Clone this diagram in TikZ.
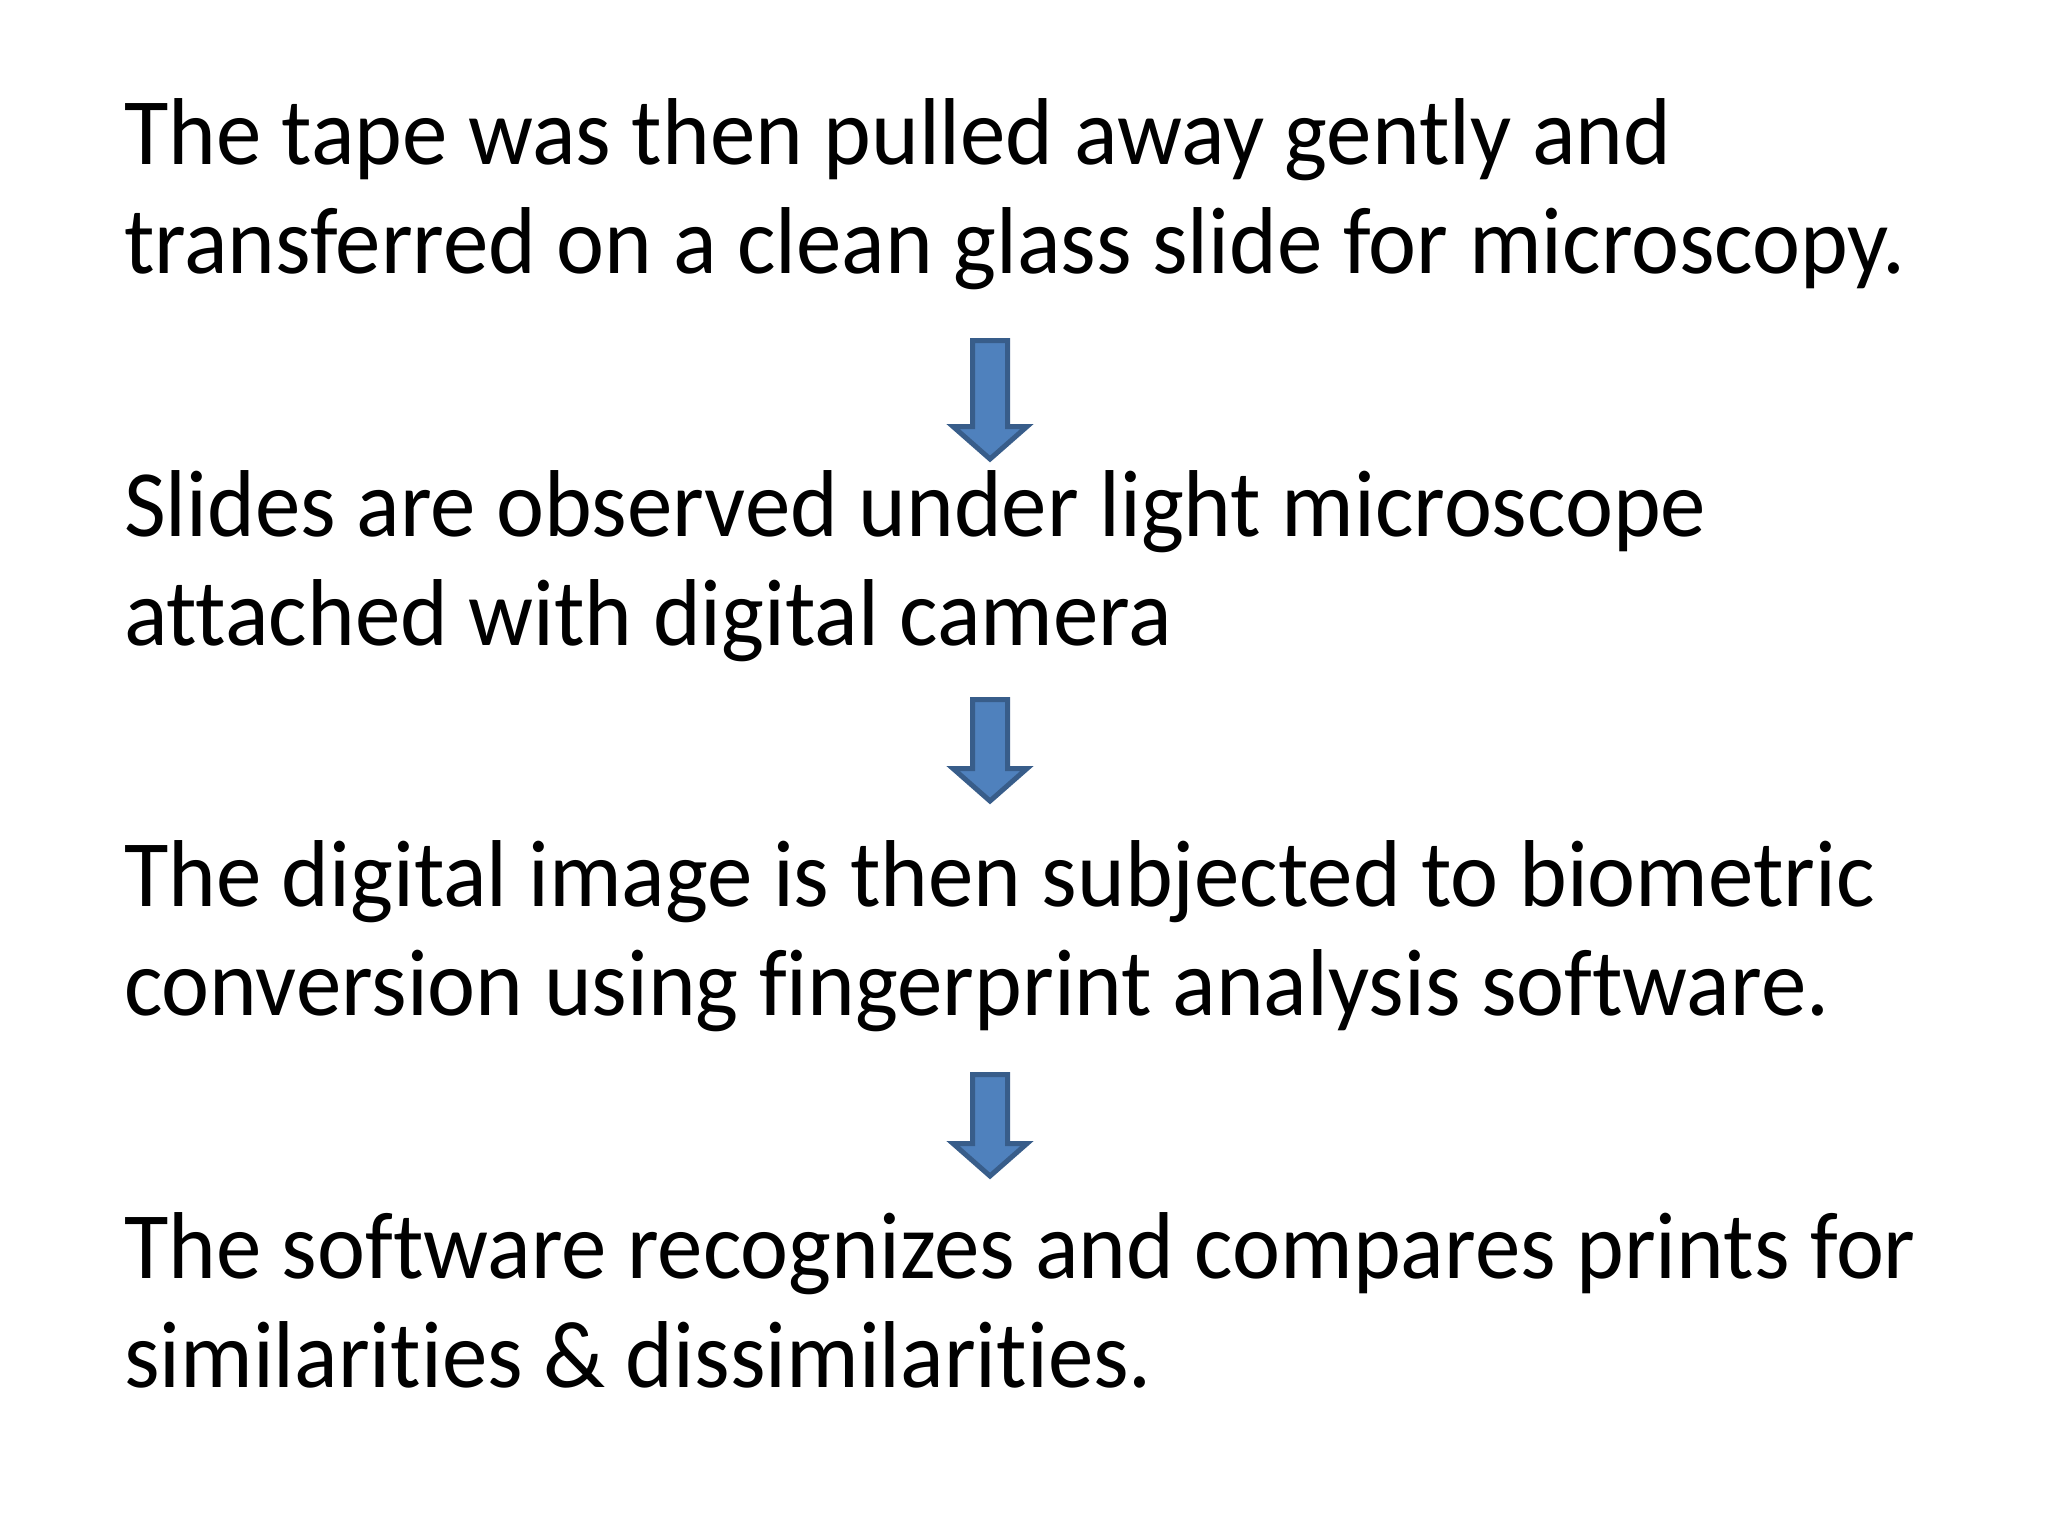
\documentclass[tikz,border=0pt]{standalone}
\usepackage{fontspec}
\setmainfont[Ligatures={NoCommon}, FakeStretch=0.957]{Carlito}
\definecolor{arrowfill}{HTML}{4F81BD}
\definecolor{arrowdraw}{HTML}{385D8A}
\tikzset{
  txt/.style={anchor=base west, inner sep=0pt, outer sep=0pt, align=left,
    font=\fontsize{95}{109}\selectfont, text=black},
  blockarrow/.style={fill=arrowfill, draw=arrowdraw, line width=5pt, line join=miter}
}
\newcommand{\downarrowshape}[4]{% x, top, headstart, tip
  \draw[blockarrow] (#1-17.5,#2+2.5) -- (#1+17.5,#2+2.5) -- (#1+17.5,#3+2.5)
    -- (#1+37,#3+2.5) -- (#1,#4-4) -- (#1-37,#3+2.5) -- (#1-17.5,#3+2.5) -- cycle;}
\begin{document}
\begin{tikzpicture}[x=1pt,y=-1pt]
\useasboundingbox[fill=white] (0,0) rectangle (2048,1536);
% base anchor of a two-line node lies on its last line
\node[txt] (b1) at (124,273) {The tape was then pulled away gently and\\transferred on a clean glass slide for microscopy.};
\node[txt] (b2) at (124,645) {Slides are observed under light microscope\\attached with digital camera};
\node[txt] (b3) at (124,1015) {The digital image is then subjected to biometric\\conversion using fingerprint analysis software.};
\node[txt] (b4) at (124,1387) {The software recognizes and compares prints for\\similarities \& dissimilarities.};
\downarrowshape{990}{338}{424}{463}
\downarrowshape{990}{697}{766}{805}
\downarrowshape{990}{1072}{1141}{1180}
\end{tikzpicture}
\end{document}
